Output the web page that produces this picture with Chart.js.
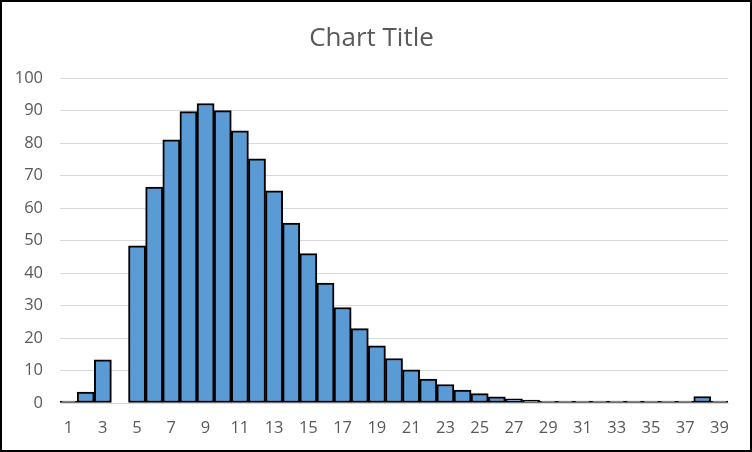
<!DOCTYPE html>
<html>
<head>
<meta charset="utf-8">
<script src="https://cdn.jsdelivr.net/npm/chart.js@4/dist/chart.umd.min.js"></script>
<style>
  html, body { margin: 0; padding: 0; background: #fff; }
  #wrap { width: 752px; height: 452px; box-sizing: border-box; border: 2px solid #000; position: relative; }
  #chart { display: block; }
</style>
</head>
<body>
<div id="wrap"><canvas id="chart" width="748" height="448"></canvas></div>
<script>
// Histogram bins 1..39 and their counts
const binLabels = [];
for (let i = 1; i <= 39; i++) binLabels.push(String(i));
const counts = [
  0, 3.4, 13.3, null, 48.4, 66.5, 81, 89.7, 92.2, 90,
  83.8, 75.2, 65.3, 55.4, 46, 36.9, 29.4, 22.9, 17.6, 13.7,
  10.2, 7.4, 5.7, 4.0, 2.9, 1.9, 1.3, 0.9, 0.6, 0.3,
  0, 0, 0, 0, 0, 0, 0, 2.0, 0
];
const yTicks = [0, 10, 20, 30, 40, 50, 60, 70, 80, 90, 100];

const ctx = document.getElementById("chart").getContext("2d");
new Chart(ctx, {
  type: "bar",
  data: {
    labels: binLabels,
    datasets: [
      {
        data: counts,
        backgroundColor: "#5B9BD5",
        borderColor: "#000000",
        borderWidth: 2,
        borderSkipped: false,
        minBarLength: 2,
        categoryPercentage: 1.0,
        barPercentage: 1.0,
      },
    ],
  },
  options: {
    responsive: false,
    animation: false,
    layout: { padding: { left: 13, right: 22, top: 21, bottom: 12 } },
    plugins: {
      legend: { display: false },
      tooltip: { enabled: false },
      title: {
        display: true,
        text: "Chart Title",
        color: "#595959",
        font: { family: "Open Sans", size: 26, weight: "normal" },
        padding: { top: 0, bottom: 24 },
      },
    },
    scales: {
      x: {
        grid: { display: false, drawTicks: false },
        border: { display: true, color: "#d9d9d9", width: 1 },
        afterFit: function (axis) { axis.height = 35; },
        ticks: {
          autoSkip: false,
          maxRotation: 0,
          padding: 15,
          color: "#595959",
          font: { family: "Open Sans", size: 16.5 },
          callback: function (value, index) {
            return index % 2 === 0 ? binLabels[index] : "";
          },
        },
      },
      y: {
        min: 0,
        max: 100,
        afterFit: function (axis) { axis.width = 45; },
        afterBuildTicks: function (axis) {
          axis.ticks = yTicks.map(function (v) { return { value: v }; });
        },
        grid: { color: "#d9d9d9", lineWidth: 1, drawTicks: false },
        border: { display: false },
        ticks: {
          padding: 17,
          color: "#595959",
          font: { family: "Open Sans", size: 16.5 },
        },
      },
    },
  },
});
</script>
</body>
</html>
